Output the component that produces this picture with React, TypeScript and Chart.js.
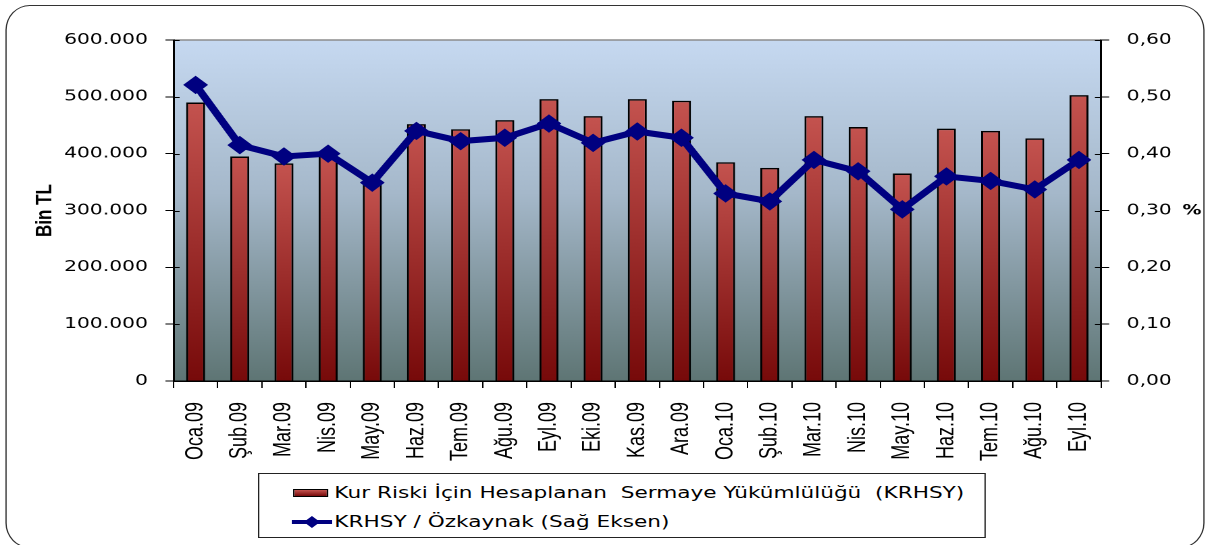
import React, { useEffect, useRef } from 'react';
import { Chart, registerables } from 'chart.js';

Chart.register(...registerables);

const categories = ['Oca.09', 'Şub.09', 'Mar.09', 'Nis.09', 'May.09', 'Haz.09', 'Tem.09', 'Ağu.09', 'Eyl.09', 'Eki.09', 'Kas.09', 'Ara.09', 'Oca.10', 'Şub.10', 'Mar.10', 'Nis.10', 'May.10', 'Haz.10', 'Tem.10', 'Ağu.10', 'Eyl.10'];
const krhsyValues = [490000, 395000, 383000, 397000, 349000, 452000, 443000, 459000, 496000, 466000, 496000, 493000, 385000, 375000, 466000, 447000, 365000, 444000, 440000, 427000, 503000];
const ratioValues = [0.521, 0.415, 0.395, 0.400, 0.349, 0.440, 0.422, 0.428, 0.453, 0.419, 0.439, 0.428, 0.330, 0.316, 0.389, 0.369, 0.302, 0.360, 0.352, 0.337, 0.389];
const leftTickLabels = ['0', '100.000', '200.000', '300.000', '400.000', '500.000', '600.000'];
const rightTickLabels = ['0,00', '0,10', '0,20', '0,30', '0,40', '0,50', '0,60'];
const barLabel = 'Kur Riski İçin Hesaplanan  Sermaye Yükümlülüğü  (KRHSY)';
const lineLabel = 'KRHSY / Özkaynak (Sağ Eksen)';
const leftTitle = 'Bin TL';
const rightTitle = '%';

const SX = 1210 / 896;
const W = 896;
const H = 545;

const bgPlugin = {
  id: 'plotBg',
  beforeDraw(chart: any) {
    const { ctx, chartArea: a } = chart;
    if (!a) return;
    const g = ctx.createLinearGradient(0, a.top, 0, a.bottom);
    g.addColorStop(0, '#C6D9F1');
    g.addColorStop(0.45, '#A5B8CA');
    g.addColorStop(1, '#5E7574');
    ctx.save();
    ctx.fillStyle = g;
    ctx.fillRect(a.left, a.top, a.right - a.left, a.bottom - a.top);
    ctx.strokeStyle = '#8C8C8C';
    ctx.lineWidth = 1.5;
    ctx.beginPath();
    ctx.moveTo(a.left, a.top);
    ctx.lineTo(a.right, a.top);
    ctx.stroke();
    ctx.restore();
  },
};

const innerTicksPlugin = {
  id: 'innerTicks',
  afterDraw(chart: any) {
    const { ctx, chartArea: a } = chart;
    ctx.save();
    ctx.strokeStyle = '#000';
    ctx.lineWidth = 1;
    ['y', 'y1'].forEach((id) => {
      const s = chart.scales[id];
      s.ticks.forEach((t: any) => {
        const py = Math.round(s.getPixelForValue(t.value)) + 0.5;
        ctx.beginPath();
        if (id === 'y') {
          ctx.moveTo(a.left, py);
          ctx.lineTo(a.left + 4.5, py);
        } else {
          ctx.moveTo(a.right - 4.5, py);
          ctx.lineTo(a.right, py);
        }
        ctx.stroke();
      });
    });
    ctx.font = 'bold 14px "DejaVu Sans", Verdana, sans-serif';
    ctx.fillStyle = '#000';
    ctx.textAlign = 'center';
    ctx.textBaseline = 'middle';
    ctx.fillText(rightTitle, 882.7, 211);
    ctx.restore();
  },
};

export default function App() {
  const ref = useRef<HTMLCanvasElement | null>(null);

  useEffect(() => {
    if (!ref.current) return;
    const chart = new Chart(ref.current, {
      type: 'bar',
      data: {
        labels: categories,
        datasets: [
          {
            type: 'line',
            label: lineLabel,
            data: ratioValues,
            yAxisID: 'y1',
            borderColor: '#000080',
            backgroundColor: '#000080',
            borderWidth: 6,
            pointStyle: 'rectRot',
            pointRadius: 8.5,
            pointBackgroundColor: '#000080',
            pointBorderColor: '#000080',
            pointBorderWidth: 1,
            tension: 0,
            order: 0,
          } as any,
          {
            type: 'bar',
            label: barLabel,
            data: krhsyValues,
            yAxisID: 'y',
            barPercentage: 0.43,
            categoryPercentage: 1,
            borderColor: '#000',
            borderWidth: 1.5,
            borderSkipped: 'bottom',
            backgroundColor: (c: any) => {
              const ch = c.chart;
              if (!ch.chartArea || c.type !== 'data') return '#C0504D';
              const ys = ch.scales.y;
              const top = ys.getPixelForValue(c.raw);
              const bottom = ys.getPixelForValue(0);
              const g = ch.ctx.createLinearGradient(0, top, 0, bottom);
              g.addColorStop(0, '#C4534F');
              g.addColorStop(1, '#770A0A');
              return g;
            },
            order: 1,
          } as any,
        ],
      },
      options: {
        animation: false,
        responsive: false,
        devicePixelRatio: 2,
        layout: { padding: { top: 40, left: 0, right: 0, bottom: 0 } },
        plugins: {
          legend: { display: false },
          tooltip: { enabled: false },
          title: { display: false },
        },
        scales: {
          x: {
            type: 'category',
            offset: true,
            grid: { display: true, drawOnChartArea: false, tickLength: 7, color: '#000', lineWidth: 1, offset: true },
            border: { display: true, color: '#000', width: 1.5 },
            ticks: {
              minRotation: 90,
              maxRotation: 90,
              autoSkip: false,
              padding: 14,
              color: '#000',
              font: { family: '"Liberation Sans Narrow", "Liberation Sans", sans-serif', size: 18 },
            },
            afterFit: (s: any) => { s.height = 164; },
          },
          y: {
            position: 'left',
            min: 0,
            max: 600000,
            ticks: {
              stepSize: 100000,
              padding: 13,
              color: '#000',
              font: { family: '"DejaVu Sans", Verdana, sans-serif', size: 15 },
              callback: (_v: any, i: number) => leftTickLabels[i],
            },
            grid: { drawOnChartArea: false, tickLength: 6, color: '#000', lineWidth: 1 },
            border: { display: true, color: '#000', width: 1.5 },
            title: {
              display: true,
              text: leftTitle,
              color: '#000',
              font: { family: '"Liberation Sans Narrow", "Liberation Sans", sans-serif', size: 17, weight: 'bold' },
              padding: { top: 23, bottom: 0 },
            },
            afterFit: (s: any) => { s.width = 128.5; },
          },
          y1: {
            position: 'right',
            min: 0,
            max: 0.6,
            ticks: {
              stepSize: 0.1,
              padding: 13,
              color: '#000',
              font: { family: '"DejaVu Sans", Verdana, sans-serif', size: 15 },
              callback: (_v: any, i: number) => rightTickLabels[i],
            },
            grid: { drawOnChartArea: false, tickLength: 6, color: '#000', lineWidth: 1 },
            border: { display: true, color: '#000', width: 1.5 },
            afterFit: (s: any) => { s.width = 80.7; },
          },
        },
      } as any,
      plugins: [bgPlugin, innerTicksPlugin],
    });
    return () => chart.destroy();
  }, []);

  const legendText: React.CSSProperties = {
    position: 'absolute',
    left: 55.6,
    fontFamily: '"DejaVu Sans", Verdana, sans-serif',
    fontSize: 16,
    color: '#000',
    whiteSpace: 'pre',
    lineHeight: '18px',
  };

  return (
    <div
      style={{
        position: 'fixed',
        left: 0,
        top: 0,
        width: W,
        height: H,
        transform: `scaleX(${SX})`,
        transformOrigin: '0 0',
        overflow: 'hidden',
        background: '#fff',
      }}
    >
      <div
        style={{
          position: 'absolute',
          left: 3.7,
          top: 5,
          width: 888.6,
          height: 543,
          border: '1.5px solid #333',
          borderRadius: '18px / 25px',
          boxSizing: 'border-box',
        }}
      />
      <canvas ref={ref} width={W} height={H} style={{ position: 'absolute', left: 0, top: 0, width: W, height: H, display: 'block' }} />
      <div
        style={{
          position: 'absolute',
          left: 191,
          top: 473,
          width: 538.6,
          height: 65,
          border: '1.5px solid #222',
          background: '#fff',
          boxSizing: 'border-box',
        }}
      >
        <div
          style={{
            position: 'absolute',
            left: 25,
            top: 14.5,
            width: 26,
            height: 8,
            border: '1px solid #000',
            background: 'linear-gradient(#C4534F, #770A0A)',
            boxSizing: 'border-box',
          }}
        />
        <div style={{ ...legendText, top: 10 }}>{barLabel}</div>
        <svg style={{ position: 'absolute', left: 24, top: 41 }} width={30} height={14}>
          <line x1={0} y1={7} x2={30} y2={7} stroke="#000080" strokeWidth={4} />
          <polygon points="15,1 21,7 15,13 9,7" fill="#000080" />
        </svg>
        <div style={{ ...legendText, top: 39 }}>{lineLabel}</div>
      </div>
    </div>
  );
}
